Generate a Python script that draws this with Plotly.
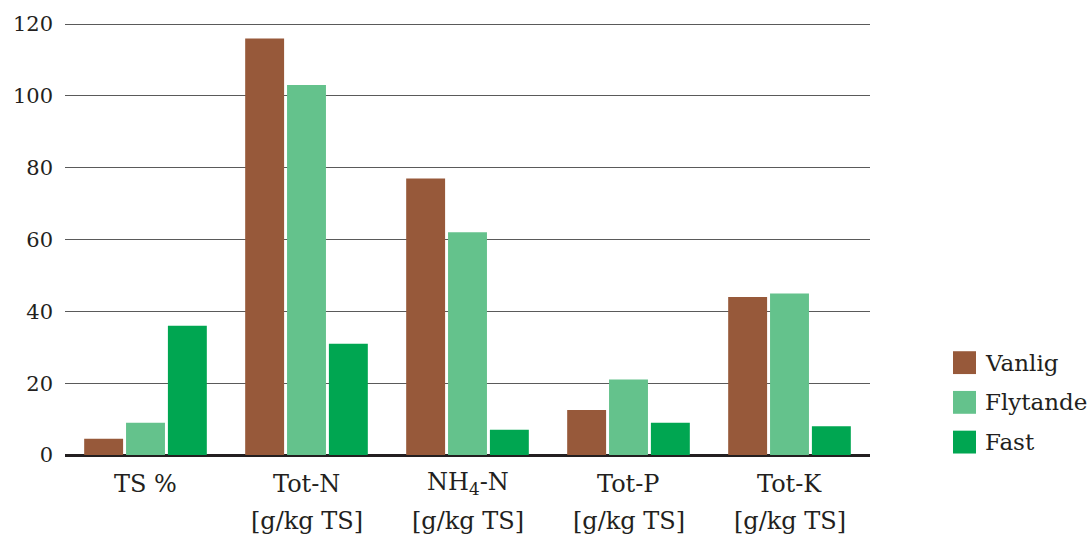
import plotly.graph_objects as go

# Categories (two-line labels) and series values
categories = ["TS %", "Tot-N", "NH4-N", "Tot-P", "Tot-K"]
label_line1 = ["TS %", "Tot-N", "NH<sub>4</sub>-N", "Tot-P", "Tot-K"]
label_line2 = ["", "[g/kg TS]", "[g/kg TS]", "[g/kg TS]", "[g/kg TS]"]

series_names = ["Vanlig", "Flytande", "Fast"]
vanlig = [4.5, 116, 77, 12.5, 44]
flytande = [9, 103, 62, 21, 45]
fast = [36, 31, 7, 9, 8]
series_values = [vanlig, flytande, fast]
series_colors = ["#97593a", "#64c28c", "#00a651"]

y_ticks = [0, 20, 40, 60, 80, 100, 120]

FONT = "DejaVu Serif"
TEXT = "#231f20"

W, H = 1090, 538
ML, MR, MT, MB = 65, 220, 20, 83
PW, PH = W - ML - MR, H - MT - MB


def px_to_paper_x(px):
    return (px - ML) / PW


def px_to_paper_y(py):
    return (H - MB - py) / PH


fig = go.Figure()
for name, vals, col in zip(series_names, series_values, series_colors):
    fig.add_trace(go.Bar(name=name, x=categories, y=vals, marker_color=col,
                         marker_line_width=0, showlegend=False))

# Category labels below the axis
annotations = []
for cat, l1, l2 in zip(categories, label_line1, label_line2):
    annotations.append(dict(x=cat, xref="x", y=px_to_paper_y(484), yref="paper",
                            text=l1, showarrow=False, yanchor="middle",
                            font=dict(family=FONT, size=24, color=TEXT)))
    if l2:
        annotations.append(dict(x=cat, xref="x", y=px_to_paper_y(521), yref="paper",
                                text=l2, showarrow=False, yanchor="middle",
                                font=dict(family=FONT, size=24, color=TEXT)))

# Legend built from square swatches and labels
shapes = []
for i, (name, col) in enumerate(zip(series_names, series_colors)):
    cy = 362 + 40 * i
    shapes.append(dict(type="rect", xref="paper", yref="paper",
                       x0=px_to_paper_x(953), x1=px_to_paper_x(976),
                       y0=px_to_paper_y(cy + 11.5), y1=px_to_paper_y(cy - 11.5),
                       fillcolor=col, line_width=0))
    annotations.append(dict(x=px_to_paper_x(983), xref="paper", y=px_to_paper_y(cy),
                            yref="paper", text=name, showarrow=False,
                            xanchor="left", yanchor="middle",
                            font=dict(family=FONT, size=23, color=TEXT)))

fig.update_layout(
    width=W, height=H,
    margin=dict(l=ML, r=MR, t=MT, b=MB, pad=0),
    plot_bgcolor="white", paper_bgcolor="white",
    barmode="group", bargap=0.22, bargroupgap=0.07,
    font=dict(family=FONT, size=21, color=TEXT),
    xaxis=dict(showticklabels=False, showgrid=False, showline=False, ticks=""),
    yaxis=dict(range=[0, 120.3], tickvals=y_ticks, showgrid=True,
               gridcolor="#5a5a5a", gridwidth=1.3,
               zeroline=True, zerolinecolor=TEXT, zerolinewidth=3,
               showline=False, ticks="", ticklabelstandoff=11,
               tickfont=dict(family=FONT, size=21, color=TEXT)),
    annotations=annotations,
    shapes=shapes,
)

fig.write_html("out.html")
